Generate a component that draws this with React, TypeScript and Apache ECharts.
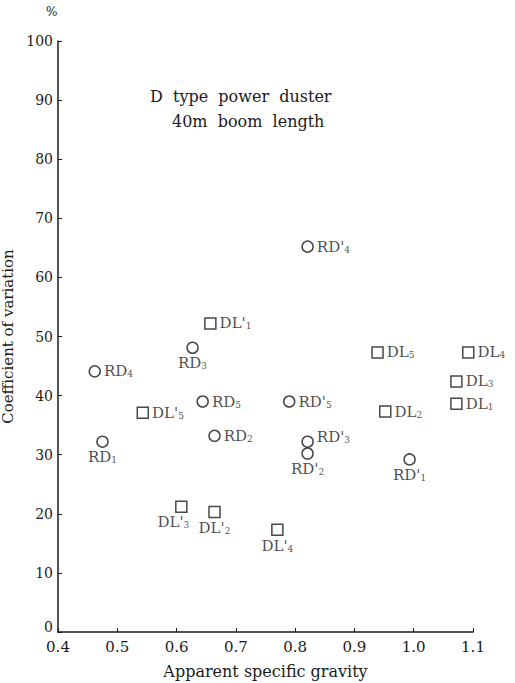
import React, { useEffect, useRef } from "react";
import * as echarts from "echarts";

// Circle points (RD series)
const rdNames = ["RD'4", "RD3", "RD4", "RD5", "RD'5", "RD2", "RD1", "RD'3", "RD'2", "RD'1"];
const rdX = [0.821, 0.627, 0.462, 0.644, 0.79, 0.664, 0.475, 0.821, 0.821, 0.993];
const rdY = [65.2, 48.1, 44.1, 39.0, 39.0, 33.2, 32.2, 32.2, 30.2, 29.2];

// Square points (DL series)
const dlNames = ["DL'1", "DL'5", "DL5", "DL4", "DL3", "DL1", "DL2", "DL'3", "DL'2", "DL'4"];
const dlX = [0.657, 0.543, 0.939, 1.092, 1.072, 1.072, 0.952, 0.608, 0.664, 0.77];
const dlY = [52.2, 37.1, 47.3, 47.3, 42.4, 38.6, 37.3, 21.2, 20.3, 17.3];

const xTicks = [0.4, 0.5, 0.6, 0.7, 0.8, 0.9, 1.0, 1.1];
const yTicks = [0, 10, 20, 30, 40, 50, 60, 70, 80, 90, 100];

// label placement (style, not data)
const belowLabels = ["RD3", "RD1", "RD'2", "RD'1", "DL'3", "DL'2", "DL'4"];

const FONT = "DejaVu Serif";
const INK = "#1a1a1a";

function labelText(name: string) {
  const m = name.match(/^([A-Z]+'?)(\d)$/);
  if (!m) return name;
  return `{a|${m[1]}}{s|${m[2]}}`;
}

function buildItems(names: string[], xs: number[], ys: number[]) {
  return names.map((n, i) => {
    const below = belowLabels.includes(n);
    let offset: number[] = [0, 0];
    if (n === "DL'3") offset = [-8, 0];
    if (n === "RD'3") offset = [0, -5];
    return {
      name: n,
      value: [xs[i], ys[i]],
      label: {
        show: true,
        position: below ? "bottom" : "right",
        distance: below ? 2 : 3,
        offset,
        formatter: labelText(n),
        rich: {
          a: { fontFamily: FONT, fontSize: 15, color: INK },
          s: { fontFamily: FONT, fontSize: 9, color: INK, padding: [6, 0, 0, 0] },
        },
      },
    };
  });
}

export default function App() {
  const ref = useRef<HTMLDivElement>(null);
  useEffect(() => {
    if (!ref.current) return;
    const chart = echarts.init(ref.current, null, { renderer: "svg" });
    chart.setOption({
      animation: false,
      backgroundColor: "#fff",
      textStyle: { fontFamily: FONT },
      grid: { left: 58, right: 42, top: 41, bottom: 51, containLabel: false, outerBoundsMode: "none" },
      xAxis: {
        type: "value",
        min: xTicks[0],
        max: xTicks[xTicks.length - 1],
        interval: 0.1,
        name: "Apparent specific gravity",
        nameLocation: "middle",
        nameGap: 31,
        nameTextStyle: { fontFamily: FONT, fontSize: 16, color: INK },
        axisLine: { show: true, lineStyle: { color: INK, width: 1.5 } },
        axisTick: { show: true, inside: true, length: 4, lineStyle: { color: INK } },
        axisLabel: {
          fontFamily: FONT,
          fontSize: 15,
          color: INK,
          margin: 7,
          formatter: (v: number) => v.toFixed(1),
        },
        splitLine: { show: false },
      },
      yAxis: {
        type: "value",
        min: yTicks[0],
        max: yTicks[yTicks.length - 1],
        interval: 10,
        name: "Coefficient of variation",
        nameLocation: "middle",
        nameGap: 25,
        nameTextStyle: { fontFamily: FONT, fontSize: 15, color: INK },
        axisLine: { show: true, lineStyle: { color: INK, width: 1.5 } },
        axisTick: { show: true, inside: true, length: 4, lineStyle: { color: INK } },
        axisLabel: {
          fontFamily: FONT,
          fontSize: 14,
          color: INK,
          margin: 5,
          formatter: (v: number) => (v === 0 ? "{z|0}" : String(v)),
          rich: { z: { fontFamily: FONT, fontSize: 14, color: INK, padding: [0, 0, 10, 0] } },
        },
        splitLine: { show: false },
      },
      graphic: [
        {
          type: "text",
          left: 46,
          top: 6,
          style: { text: "%", fontFamily: FONT, fontSize: 12, fill: INK },
        },
        {
          type: "text",
          left: 150,
          top: 88,
          style: { text: "D  type  power  duster", fontFamily: FONT, fontSize: 16, fill: INK },
        },
        {
          type: "text",
          left: 172,
          top: 113,
          style: { text: "40m  boom  length", fontFamily: FONT, fontSize: 16, fill: INK },
        },
      ],
      series: [
        {
          type: "scatter",
          symbol: "circle",
          symbolSize: 11,
          itemStyle: { color: "#fff", borderColor: INK, borderWidth: 1.5 },
          data: buildItems(rdNames, rdX, rdY),
        },
        {
          type: "scatter",
          symbol: "rect",
          symbolSize: 11,
          itemStyle: { color: "#fff", borderColor: INK, borderWidth: 1.5 },
          data: buildItems(dlNames, dlX, dlY),
        },
      ],
    });
    return () => chart.dispose();
  }, []);
  return <div ref={ref} style={{ width: 515, height: 683, position: "absolute", left: 0, top: 0 }} />;
}
